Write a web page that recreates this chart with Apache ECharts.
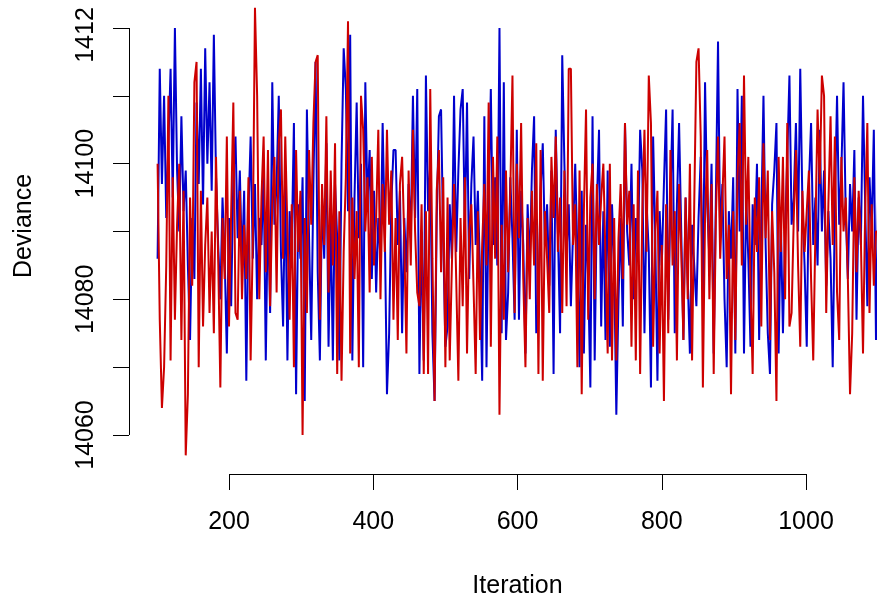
<!DOCTYPE html>
<html>
<head>
<meta charset="utf-8">
<script src="https://cdn.jsdelivr.net/npm/echarts@6/dist/echarts.min.js"></script>
<style>
  html, body { margin: 0; padding: 0; background: #fff; }
  #chart { width: 877px; height: 599px; }
</style>
</head>
<body>
<div id="chart"></div>
<script>
// iterations run 101, 104, ... 1100
const firstIter = 101
const iterStep = 3

const xTicks = [200, 400, 600, 800, 1000]
const yTicks = [14060, 14070, 14080, 14090, 14100, 14110, 14120]
const yLabelValues = [14060, 14080, 14100, 14120]
const yLabelTexts = ['14060', '14080', '14100', '1412']

// chain 1 (blue)
const chain1 = [
  14086, 14114, 14097, 14110, 14092, 14103, 14114, 14095, 14120, 14099,
  14090, 14107, 14093, 14099, 14085, 14074, 14092, 14083, 14109, 14097,
  14114, 14094, 14117, 14100, 14112, 14096, 14119, 14098, 14088, 14080,
  14095, 14086, 14072, 14092, 14079, 14098, 14104, 14089, 14099, 14085,
  14096, 14068, 14093, 14104, 14086, 14097, 14080, 14092, 14088, 14099,
  14071, 14094, 14078, 14112, 14091, 14097, 14110, 14087, 14076, 14098,
  14071, 14093, 14088, 14106, 14066, 14094, 14086, 14098, 14065, 14108,
  14089, 14074, 14097, 14115, 14084, 14071, 14095, 14086, 14103, 14073,
  14092, 14071,
  14097, 14089, 14071, 14100, 14117, 14111, 14093, 14119, 14071, 14095,
  14109, 14089, 14100, 14070, 14112, 14094, 14102, 14083, 14096, 14081,
  14092, 14086, 14106, 14090, 14066, 14075, 14094, 14102, 14102, 14088,
  14096, 14075, 14092, 14084, 14097, 14089, 14110, 14092, 14111, 14069,
  14090, 14071,
  14113, 14093, 14100, 14075, 14065, 14092, 14107, 14108, 14089, 14073,
  14076, 14094, 14086, 14110, 14087, 14099, 14108, 14111, 14090, 14109,
  14083, 14097, 14104, 14088, 14096, 14084, 14068, 14107, 14070, 14095,
  14111, 14088, 14098, 14085, 14120, 14075, 14112, 14074, 14081, 14098,
  14089, 14077, 14105,
  14077, 14096, 14088, 14072, 14094, 14085, 14099, 14107, 14075, 14080,
  14096, 14103, 14088, 14094, 14082, 14099, 14069, 14105, 14090, 14075,
  14116, 14100, 14087, 14094, 14079, 14090, 14100, 14087, 14070, 14096,
  14072, 14091, 14083, 14067, 14107, 14071, 14094, 14105, 14076, 14093,
  14074, 14099, 14073,
  14094, 14085, 14063, 14080, 14092, 14076, 14106, 14090, 14085, 14100,
  14080, 14092, 14087, 14105, 14099, 14075, 14094, 14087, 14067, 14104,
  14089, 14068, 14093, 14085, 14097, 14108, 14077, 14095, 14108, 14075,
  14094, 14106, 14090, 14074, 14095, 14083, 14072, 14091, 14085, 14079,
  14092, 14101,
  14080, 14112, 14094, 14086, 14100, 14072, 14095, 14118, 14089, 14097,
  14080, 14070, 14093, 14086, 14098, 14072, 14111, 14090, 14110, 14072,
  14095, 14086, 14073, 14094, 14088, 14100, 14074, 14092, 14110, 14088,
  14075, 14069, 14094, 14099, 14106, 14072, 14092, 14075, 14090, 14101,
  14113, 14091, 14095,
  14106, 14090, 14114, 14094, 14085, 14073, 14097, 14106, 14088, 14095,
  14085, 14105, 14090, 14099, 14082, 14093, 14086, 14070, 14094, 14110,
  14091, 14099, 14112, 14093, 14083, 14097, 14090, 14102, 14077, 14095,
  14088, 14110, 14094, 14079, 14098, 14090, 14105, 14074, 14096
]

// chain 2 (red)
const chain2 = [
  14100, 14077, 14064, 14070, 14085, 14110, 14071, 14098, 14077, 14091,
  14100, 14074, 14096, 14057, 14066, 14095, 14082, 14112, 14115, 14070,
  14096, 14076, 14088, 14095, 14078, 14090, 14075, 14101, 14086, 14067,
  14092, 14083, 14104, 14076, 14093, 14109, 14078, 14077, 14096, 14080,
  14091, 14083, 14098, 14071, 14089, 14123, 14110, 14080, 14095, 14104,
  14084, 14102, 14079, 14094, 14101, 14081, 14103, 14108, 14086, 14104,
  14090, 14077, 14094, 14070, 14102, 14087, 14096, 14060, 14092, 14078,
  14102, 14091, 14106, 14115, 14116, 14077, 14097, 14088, 14107, 14081,
  14099, 14085,
  14103, 14069, 14093, 14068, 14087, 14098, 14121, 14072, 14095, 14083,
  14093, 14070, 14110, 14105, 14090, 14098, 14081, 14101, 14085, 14092,
  14105, 14080, 14097, 14087, 14105, 14091, 14099, 14077, 14092, 14074,
  14097, 14101, 14089, 14072, 14099, 14085, 14105, 14090, 14081, 14079,
  14094, 14069,
  14093, 14069, 14111, 14086, 14065, 14096, 14102, 14084, 14098, 14070,
  14095, 14071, 14085, 14097, 14083, 14068, 14092, 14079, 14098, 14072,
  14090, 14094, 14082, 14069, 14093, 14074, 14088, 14097, 14085, 14109,
  14073, 14101, 14086, 14104, 14063, 14091, 14077, 14099, 14084, 14096,
  14113, 14078, 14100,
  14089, 14106, 14083, 14070, 14092, 14080, 14096, 14085, 14103, 14069,
  14102, 14068, 14093, 14086, 14078, 14101, 14092, 14104, 14087, 14095,
  14078, 14099, 14079, 14114, 14114, 14088, 14094, 14070, 14099, 14066,
  14093, 14108, 14077, 14095, 14100, 14080, 14097, 14088, 14095, 14100,
  14086, 14072, 14100,
  14071, 14092, 14071, 14089, 14097, 14083, 14106, 14091, 14096, 14073,
  14094, 14071, 14099, 14069, 14093, 14105, 14087, 14113, 14106, 14073,
  14090, 14096, 14072, 14088, 14065, 14094, 14075, 14102, 14085, 14093,
  14071, 14097, 14087, 14074, 14095, 14080, 14100, 14071, 14094, 14115,
  14117, 14104,
  14067, 14092, 14102, 14080, 14097, 14069, 14092, 14104, 14086, 14095,
  14104, 14083, 14091, 14066, 14093, 14074, 14098, 14106, 14085, 14113,
  14091, 14101, 14082, 14069, 14095, 14087, 14098, 14076, 14103, 14089,
  14099, 14074, 14093, 14084, 14065, 14101, 14087, 14101, 14080, 14106,
  14076, 14078, 14092,
  14102, 14085, 14073, 14096, 14087, 14093, 14099, 14083, 14071, 14090,
  14108, 14097, 14113, 14110, 14078, 14094, 14107, 14088, 14104, 14081,
  14074, 14101, 14090, 14095, 14083, 14066, 14075, 14098, 14084, 14096,
  14089, 14072, 14093, 14106, 14078, 14094, 14082, 14090, 14090
]

const font = 'Liberation Sans, Arial, Helvetica, sans-serif'
const toPoints = (arr) => arr.map((v, i) => [firstIter + i * iterStep, v])

const xMin = 61.35
const xMax = 1098.4
const yMin = 14054.25
const yMax = 14124.13

const chart = echarts.init(document.getElementById('chart'), null, { renderer: 'canvas' })

const option = {
  animation: false,
  backgroundColor: '#ffffff',
  grid: {
    left: 129,
    right: 0,
    top: 0,
    bottom: 125,
    containLabel: false,
    outerBoundsMode: 'none'
  },
  xAxis: {
    type: 'value',
    min: xMin,
    max: xMax,
    name: 'Iteration',
    nameLocation: 'middle',
    nameGap: 100,
    nameTextStyle: {
      fontSize: 25,
      fontFamily: font,
      color: '#000',
      padding: [0, 0, 0, 29]
    },
    axisLine: { show: false },
    splitLine: { show: false },
    axisTick: {
      show: true,
      customValues: xTicks,
      length: 16,
      lineStyle: { color: '#000', width: 1 }
    },
    axisLabel: {
      customValues: xTicks,
      margin: 36,
      fontSize: 25,
      fontFamily: font,
      color: '#000',
      formatter: (v) => String(v)
    }
  },
  yAxis: {
    type: 'value',
    min: yMin,
    max: yMax,
    name: 'Deviance',
    nameLocation: 'middle',
    nameRotate: 90,
    nameGap: 92,
    nameTextStyle: {
      fontSize: 25,
      fontFamily: font,
      color: '#000',
      padding: [0, 0, 0, 22]
    },
    axisLine: { show: false },
    splitLine: { show: false },
    axisTick: {
      show: true,
      customValues: yTicks,
      length: 16,
      lineStyle: { color: '#000', width: 1 }
    },
    axisLabel: {
      customValues: yLabelValues,
      rotate: 90,
      margin: 30,
      fontSize: 25,
      fontFamily: font,
      color: '#000',
      formatter: (v) => {
        const t = yLabelTexts[yLabelValues.indexOf(v)]
        return t.length < 5 ? '{cut|' + t + '}' : t
      },
      rich: {
        cut: {
          fontSize: 25,
          fontFamily: font,
          color: '#000',
          padding: [0, 14, 0, 0]
        }
      }
    }
  },
  series: [
    {
      name: 'chain1',
      type: 'line',
      data: toPoints(chain1),
      showSymbol: false,
      symbol: 'none',
      clip: true,
      lineStyle: { color: '#0000CD', width: 2 },
      markLine: {
        silent: true,
        symbol: 'none',
        label: { show: false },
        lineStyle: { color: '#000', width: 1, type: 'solid' },
        data: [
          [{ coord: [xTicks[0], yMin] }, { coord: [xTicks[xTicks.length - 1], yMin] }],
          [{ coord: [xMin, yTicks[0]] }, { coord: [xMin, yTicks[yTicks.length - 1]] }]
        ]
      }
    },
    {
      name: 'chain2',
      type: 'line',
      data: toPoints(chain2),
      showSymbol: false,
      symbol: 'none',
      clip: true,
      lineStyle: { color: '#CD0000', width: 2 }
    }
  ]
}

chart.setOption(option)
</script>
</body>
</html>
